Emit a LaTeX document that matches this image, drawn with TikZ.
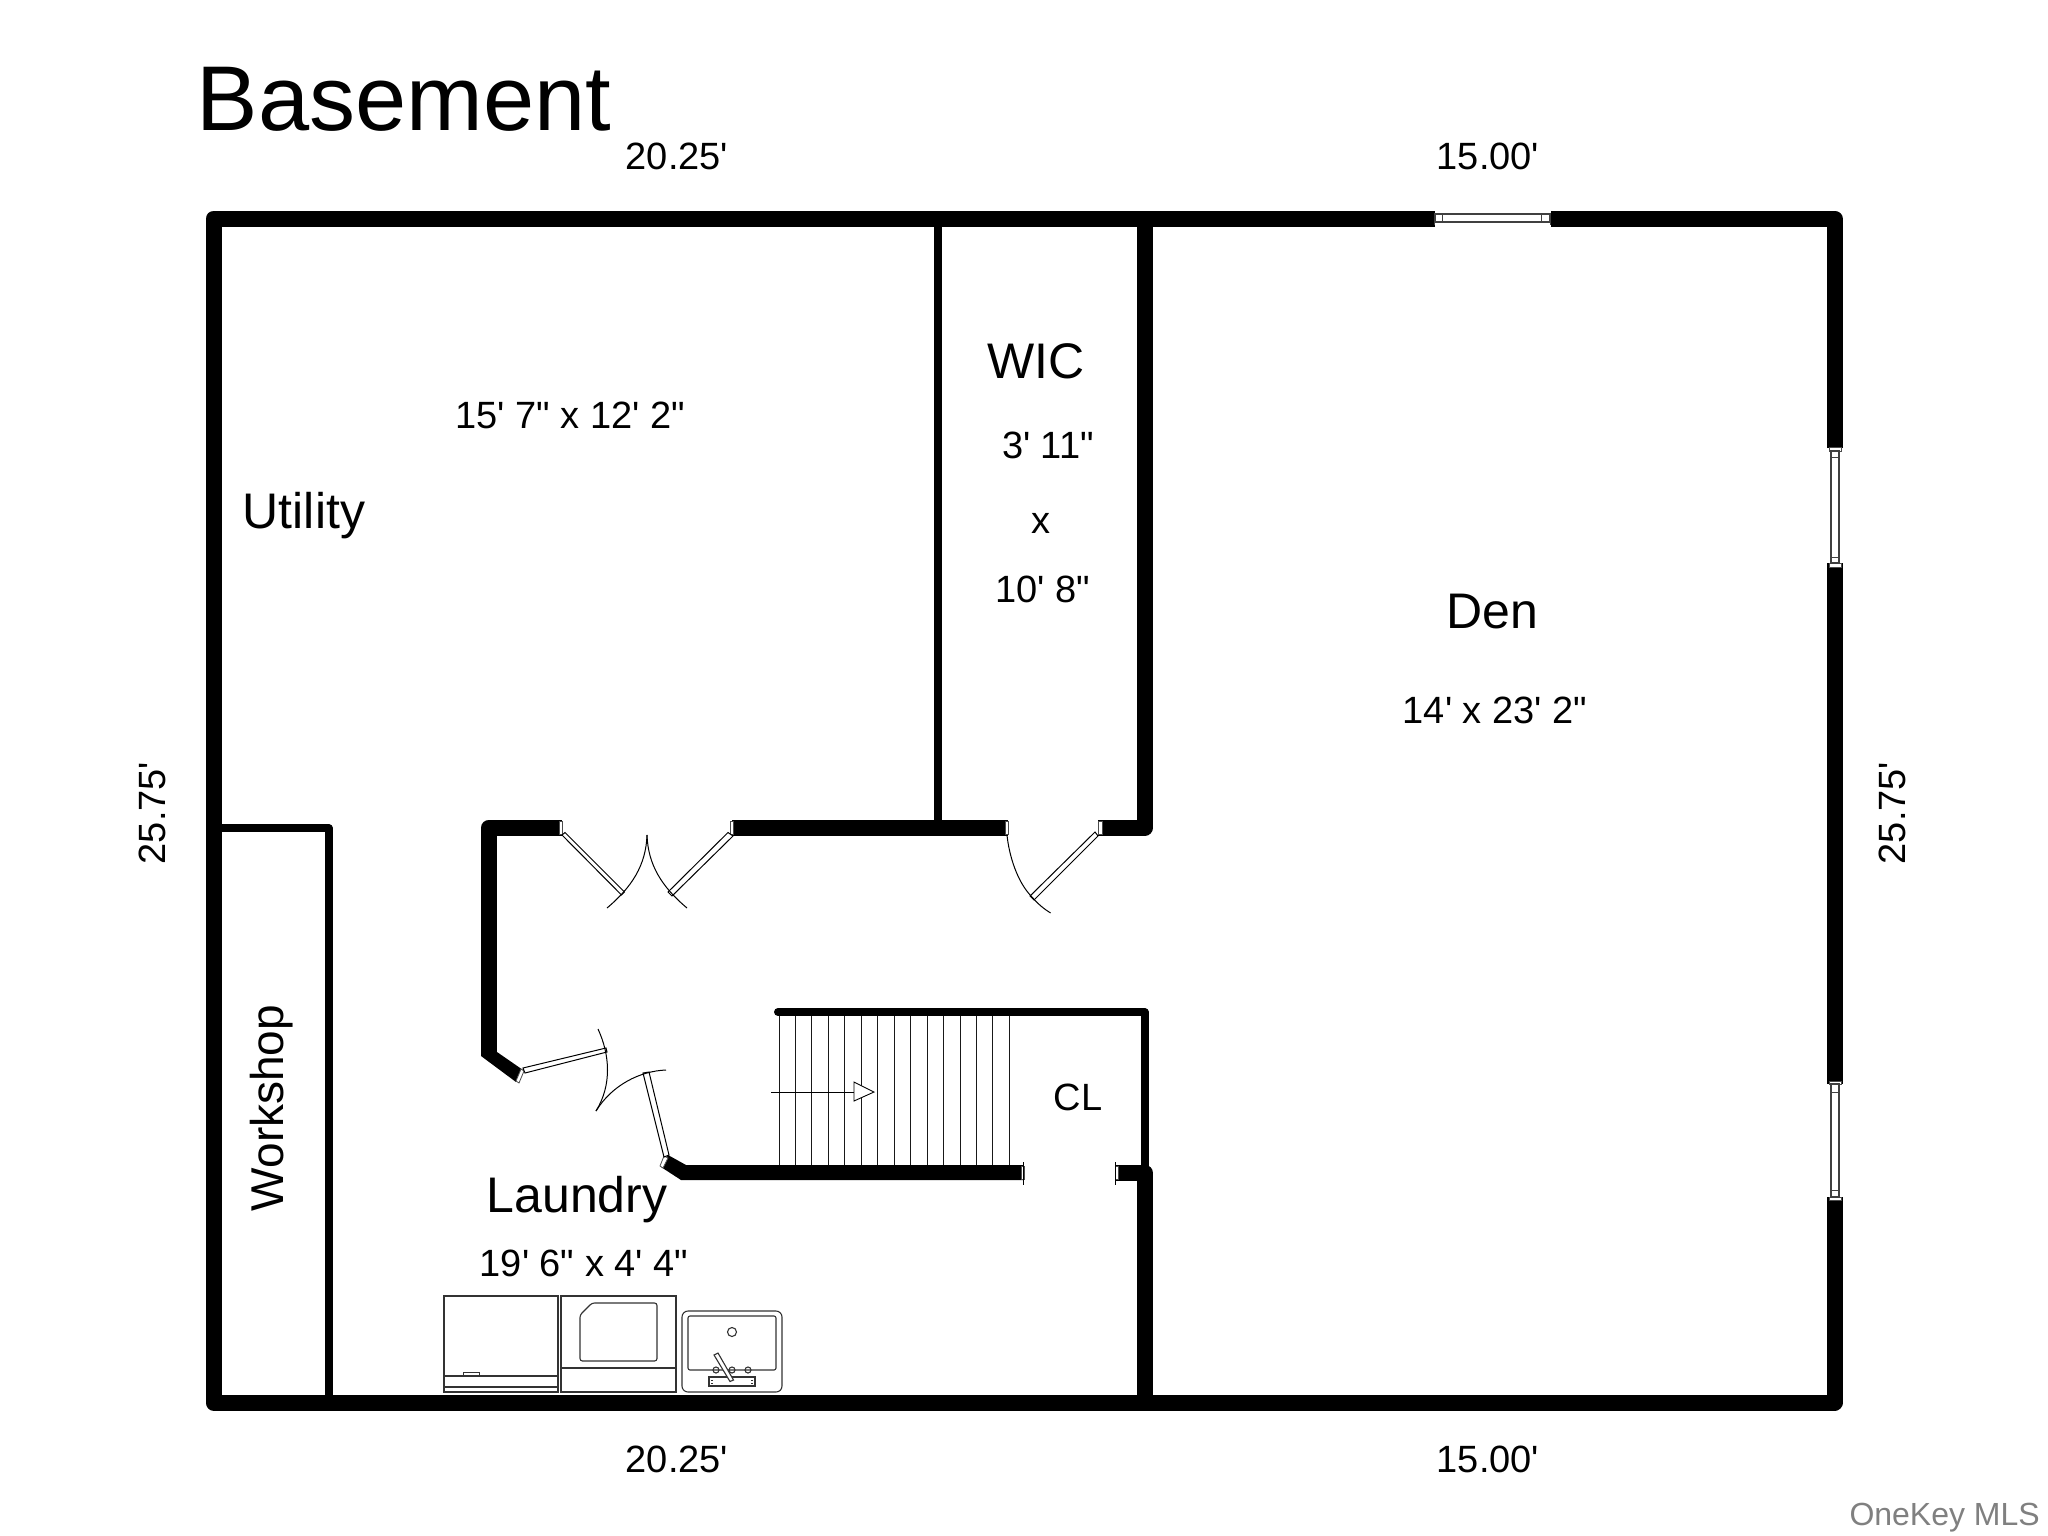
\documentclass[tikz,border=0pt]{standalone}
\usepackage{fontspec}
\setmainfont{Liberation Sans}[Ligatures=TeXOff]
\newcommand{\fs}[1]{\fontsize{#1}{#1}\selectfont}
\tikzset{
  x=1pt,y=-1pt,
  wall/.style={line width=16pt,line join=round,black},
  twall/.style={line width=8pt,line join=round,black},
  thinl/.style={line width=1pt,black},
  leaf/.style={line width=1pt,draw=black,fill=white},
  jamb/.style={line width=0.8pt,draw=black!70,fill=white},
  txt/.style={anchor=base,inner sep=0pt,outer sep=0pt,text=black,draw=black,draw opacity=0},
  app/.style={line width=1.1pt,draw=black!80},
}
\begin{document}
\begin{tikzpicture}
\useasboundingbox[fill=white] (0,0) rectangle (2048,1536);
% outer walls
\draw[wall] (1435,218.5) -- (213.5,218.5) -- (213.5,1402.5) -- (1834.5,1402.5) -- (1834.5,1197);
\draw[wall] (1834.5,1084) -- (1834.5,563);
\draw[wall] (1834.5,448) -- (1834.5,218.5) -- (1551,218.5);
% middle wall
\draw[wall] (1145,218.5) -- (1145,827.5) -- (1098,827.5);
\draw[wall] (1115,1173) -- (1145,1173) -- (1145,1402.5);
% partitions
\draw[twall] (938,218.5) -- (938,827.5);
\draw[twall] (213.5,828) -- (328.5,828) -- (328.5,1402.5);
\draw[twall,line cap=round] (778,1012) -- (1144.5,1012) -- (1144.5,1173);
% inner thick walls
\draw[wall] (562,827.5) -- (489,827.5) -- (489,1056);
\fill[black,line join=round] (481,1056) -- (497,1052) -- (523,1070) -- (516,1082) -- cycle;
\draw[wall] (732,827.5) -- (1008,827.5);
\fill[black] (668,1155) -- (686,1165) -- (1023,1165) -- (1023,1180) -- (681,1180) -- (661,1167) -- cycle;
% jambs
\filldraw[jamb] (559,821) rectangle (562.5,834);
\filldraw[jamb] (730,821) rectangle (733,834);
\filldraw[jamb] (1005,821) rectangle (1008.5,834);
\filldraw[jamb] (1098,821) rectangle (1102,834);
\filldraw[jamb] (1021,1166) rectangle (1024,1179);
\filldraw[jamb] (1115,1166) rectangle (1118,1179);
\draw[thinl] (1023.5,1162) -- (1023.5,1185);
\draw[thinl] (1115,1162) -- (1115,1185);
\filldraw[jamb] (519,1083) -- (516,1081) -- (521,1069) -- (524,1071) -- cycle;
\filldraw[jamb] (664,1156) -- (668,1158) -- (663,1168) -- (660,1166) -- cycle;
% double door
\filldraw[leaf] (562,835) -- (565,832.5) -- (624.5,892) -- (621.5,895) -- cycle;
\filldraw[leaf] (728,832.5) -- (733,836) -- (672,896) -- (668,892) -- cycle;
\draw[thinl] (647,835) .. controls (646,865) and (632,887) .. (607,908);
\draw[thinl] (647,835) .. controls (648,865) and (662,887) .. (687,908);
% WIC door
\filldraw[leaf] (1095,832) -- (1098,836) -- (1034,900) -- (1030,896) -- cycle;
\draw[thinl] (1007,835) .. controls (1009,855) and (1017,882) .. (1032,897) .. controls (1038,904) and (1044,909) .. (1050.6,913);
% laundry door
\filldraw[leaf] (523,1068) -- (606,1048) -- (607,1052) -- (525,1073) -- cycle;
\filldraw[leaf] (643,1073) -- (649,1072) -- (669,1155) -- (664,1157) -- cycle;
\draw[thinl] (598,1029) .. controls (610,1055) and (612,1085) .. (596,1111);
\draw[thinl] (666,1070) .. controls (640,1071) and (612,1085) .. (596,1111);
% stairs
\foreach \i in {0,...,14} {
  \draw[line width=0.9pt,black!90] ({779+16.45*\i},1016) -- ({779+16.45*\i},1165);
}
\draw[thinl] (771,1092) -- (854,1092);
\filldraw[line width=0.9pt,draw=black,fill=white] (854,1082) -- (874,1092) -- (854,1101) -- cycle;
% window top
\filldraw[line width=1.1pt,draw=black!75,fill=white] (1435,214) rectangle (1550,222);
\draw[line width=1pt,black!75] (1442.5,214) -- (1442.5,222) (1541.5,214) -- (1541.5,222);
\draw[line width=1.2pt,black!75] (1434.5,212.5) -- (1434.5,224.5) (1550.5,212.5) -- (1550.5,224.5);
% windows right
\filldraw[jamb] (1829,447) rectangle (1841,451);
\filldraw[jamb] (1829,563) rectangle (1841,567);
\filldraw[line width=1.1pt,draw=black!75,fill=white] (1831,451) rectangle (1839,563);
\draw[line width=1pt,black!75] (1831,457) -- (1839,457) (1831,557) -- (1839,557);
\filldraw[jamb] (1829,1081) rectangle (1841,1084);
\filldraw[jamb] (1829,1197) rectangle (1841,1200);
\filldraw[line width=1.1pt,draw=black!75,fill=white] (1831,1084) rectangle (1839,1197);
\draw[line width=1pt,black!75] (1831,1092) -- (1839,1092) (1831,1190) -- (1839,1190);
% dryer
\draw[app] (444,1296) rectangle (558,1392);
\draw[app] (444,1376) -- (558,1376) (444,1387) -- (558,1387);
\draw[app,line width=0.8pt] (463,1376) -- (463,1372) -- (479,1372) -- (479,1376);
% washer
\draw[app] (561,1296) rectangle (676,1392);
\draw[app] (561,1368) -- (676,1368);
\draw[app,rounded corners=2.5pt] (580,1315) -- (592,1303) -- (657,1303) -- (657,1361) -- (580,1361) -- cycle;
% sink
\draw[app,rounded corners=6pt] (682,1311) rectangle (782,1392);
\draw[app,rounded corners=2pt] (688,1316) rectangle (776,1370);
\draw[app] (732,1332) circle (4.5);
\draw[app] (716,1370) circle (3) (732,1370) circle (3) (748,1370) circle (3);
\filldraw[app,fill=white] (709,1377) rectangle (755,1386);
\draw[app,line width=0.7pt] (711,1380) -- (713,1380) (711,1383) -- (713,1383) (751,1380) -- (753,1380) (751,1383) -- (753,1383);
\filldraw[app,fill=white] (714,1355) -- (718,1353) -- (733.5,1380) -- (730,1381.5) -- cycle;
% texts
\node[txt] (title) at (404,131) {\fs{92}Basement};
\node[txt] (dimTL) at (677,169) {\fs{38}20.25'};
\node[txt] (dimTR) at (1488,169) {\fs{38}15.00'};
\node[txt] (dimBL) at (677,1472) {\fs{38}20.25'};
\node[txt] (dimBR) at (1488,1472) {\fs{38}15.00'};
\node[txt,rotate=90] (dimL) at (165,813) {\fs{38}25.75'};
\node[txt,rotate=90] (dimR) at (1905,813) {\fs{38}25.75'};
\node[txt] (utilsize) at (570,428) {\fs{38}15' 7" x 12' 2"};
\node[txt] (util) at (304,528) {\fs{50}Utility};
\node[txt] (wic) at (1036,378) {\fs{50}WIC};
\node[txt] (wica) at (1048,458) {\fs{38}3' 11"};
\node[txt] (wicb) at (1041,533) {\fs{38}x};
\node[txt] (wicc) at (1043,602) {\fs{38}10' 8"};
\node[txt] (den) at (1492,628) {\fs{50}Den};
\node[txt] (densize) at (1495,723) {\fs{38}14' x 23' 2"};
\node[txt,rotate=90] (work) at (283,1108) {\fs{46}Workshop};
\node[txt] (cl) at (1078,1110) {\fs{38}CL};
\node[txt] (laundry) at (577,1212) {\fs{50}Laundry};
\node[txt] (lausize) at (584,1276) {\fs{38}19' 6" x 4' 4"};
\node[anchor=base east,inner sep=0pt,text=black!50] (mark) at (2040,1525) {\fs{32}OneKey MLS};
\end{tikzpicture}
\end{document}
